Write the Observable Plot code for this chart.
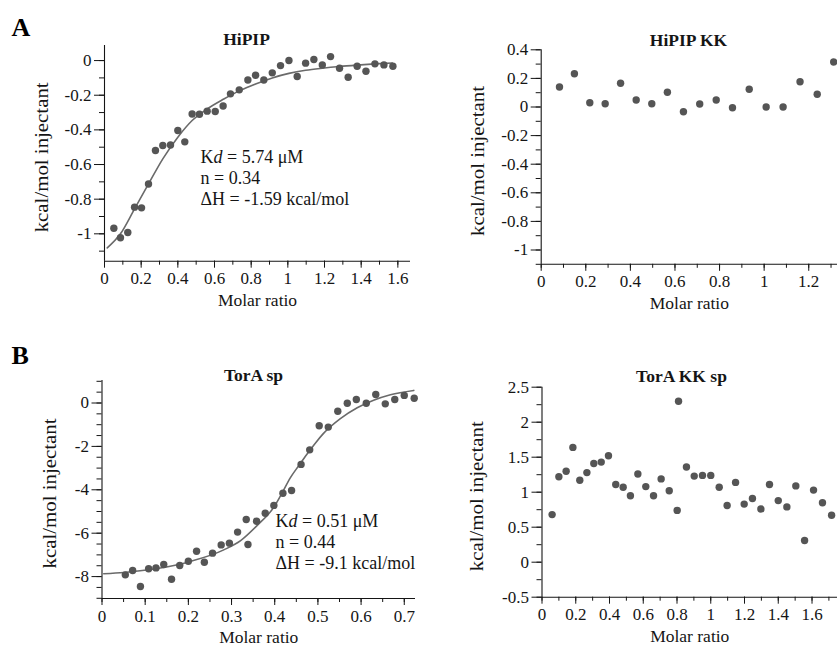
<!DOCTYPE html>
<html><head><meta charset="utf-8">
<script src="https://cdn.jsdelivr.net/npm/d3@7"></script>
<script src="https://cdn.jsdelivr.net/npm/@observablehq/plot@0.6"></script>
<style>
html,body{margin:0;padding:0;background:#fff;overflow:hidden;}
#root{position:relative;width:837px;height:648px;overflow:hidden;background:#fff;}
#root svg{position:absolute;left:0;top:0;}
</style></head><body><div id="root"></div>
<script>
// ---------- DATA ----------
// Panel A left: HiPIP
const hipipX = [0.051,0.087,0.127,0.164,0.202,0.240,0.278,0.318,0.360,0.400,0.438,0.478,0.518,0.560,0.604,0.647,0.687,0.735,0.782,0.824,0.869,0.915,0.960,1.006,1.051,1.097,1.142,1.188,1.233,1.282,1.329,1.378,1.426,1.475,1.524,1.573];
const hipipY = [-0.968,-1.023,-0.992,-0.846,-0.850,-0.712,-0.519,-0.490,-0.487,-0.404,-0.469,-0.308,-0.310,-0.292,-0.294,-0.262,-0.192,-0.169,-0.112,-0.085,-0.112,-0.071,-0.029,0.000,-0.092,-0.015,0.006,-0.025,0.023,-0.044,-0.096,-0.033,-0.062,-0.019,-0.025,-0.033];
const hipipFitX = [0.015,0.087,0.164,0.240,0.318,0.400,0.478,0.560,0.651,0.735,0.824,0.915,1.006,1.097,1.188,1.282,1.378,1.475,1.570];
const hipipFitY = [-1.081,-1.000,-0.856,-0.712,-0.567,-0.442,-0.346,-0.279,-0.222,-0.175,-0.135,-0.100,-0.074,-0.056,-0.044,-0.034,-0.026,-0.019,-0.014];
const hipipYTicks = [0,-0.2,-0.4,-0.6,-0.8,-1];
const hipipXTicks = [0,0.2,0.4,0.6,0.8,1,1.2,1.4,1.6];
const hipipNotes = ["Kd = 5.74 μM","n = 0.34","ΔH = -1.59 kcal/mol"];

// Panel A right: HiPIP KK
const hipipKKX = [0.082,0.149,0.218,0.287,0.356,0.426,0.496,0.566,0.638,0.711,0.785,0.858,0.933,1.009,1.085,1.161,1.238,1.312];
const hipipKKY = [0.140,0.233,0.030,0.023,0.166,0.049,0.023,0.103,-0.033,0.021,0.049,-0.005,0.124,0.000,0.000,0.177,0.089,0.315];
const hipipKKYTicks = [0.4,0.2,0,-0.2,-0.4,-0.6,-0.8,-1];
const hipipKKXTicks = [0,0.2,0.4,0.6,0.8,1,1.2];

// Panel B left: TorA sp
const toraX = [0.054,0.071,0.089,0.108,0.125,0.143,0.161,0.180,0.200,0.219,0.237,0.256,0.276,0.295,0.314,0.334,0.338,0.358,0.378,0.398,0.419,0.439,0.461,0.481,0.503,0.524,0.546,0.568,0.589,0.612,0.634,0.656,0.678,0.700,0.723];
const toraY = [-7.92,-7.72,-8.46,-7.64,-7.60,-7.44,-8.12,-7.49,-7.29,-6.83,-7.34,-6.92,-6.54,-6.46,-5.95,-5.37,-6.52,-5.45,-5.08,-4.72,-4.16,-4.03,-2.83,-2.16,-1.05,-1.11,-0.38,-0.01,0.16,-0.01,0.39,-0.04,0.16,0.35,0.22];
const toraFitX = [0.004,0.051,0.128,0.205,0.282,0.321,0.359,0.398,0.417,0.436,0.456,0.475,0.494,0.513,0.552,0.591,0.629,0.668,0.722];
const toraFitY = [-7.87,-7.81,-7.63,-7.30,-6.77,-6.34,-5.65,-4.80,-4.15,-3.45,-2.88,-2.35,-1.85,-1.40,-0.72,-0.22,0.13,0.38,0.58];
const toraYTicks = [0,-2,-4,-6,-8];
const toraXTicks = [0,0.1,0.2,0.3,0.4,0.5,0.6,0.7];
const toraNotes = ["Kd = 0.51 μM","n = 0.44","ΔH = -9.1 kcal/mol"];

// Panel B right: TorA KK sp
const toraKKX = [0.060,0.100,0.143,0.183,0.224,0.266,0.307,0.351,0.394,0.437,0.481,0.524,0.568,0.615,0.661,0.706,0.754,0.801,0.809,0.856,0.902,0.951,1.000,1.050,1.097,1.147,1.198,1.247,1.297,1.348,1.400,1.451,1.504,1.556,1.609,1.662,1.716];
const toraKKY = [0.68,1.22,1.30,1.64,1.17,1.28,1.41,1.43,1.52,1.11,1.07,0.95,1.26,1.08,0.95,1.19,1.02,0.74,2.30,1.36,1.23,1.24,1.24,1.07,0.81,1.14,0.83,0.91,0.76,1.11,0.88,0.79,1.09,0.31,1.03,0.85,0.67];
const toraKKYTicks = [-0.5,0,0.5,1,1.5,2,2.5];
const toraKKXTicks = [0,0.2,0.4,0.6,0.8,1,1.2,1.4,1.6];

const titles = ["HiPIP","HiPIP KK","TorA sp","TorA KK sp"];
const panelLetters = ["A","B"];
const xLabel = "Molar ratio";
const yLabel = "kcal/mol injectant";

// ---------- DRAW ----------
const W = 837, H = 648;
const INK = "#151515", DOT = "#555555", FIT = "#6a6a6a";
const fmt = d => String(d);
const blank = () => "";
const range = (a, b, s) => d3.range(Math.round((b - a) / s) + 1).map(i => +(a + i * s).toFixed(4));
const rows = (xs, ys) => xs.map((x, i) => ({x, y: ys[i]}));

function panel(c) {
  const marks = [
    Plot.ruleX([c.xDomain[0]], {stroke: INK, strokeWidth: 1.1}),
    Plot.ruleY([c.yDomain[0]], {stroke: INK, strokeWidth: 1.1}),
    Plot.axisX(c.xMinor, {anchor: "bottom", tickSize: 4, tickFormat: blank, label: null, color: INK}),
    Plot.axisX(c.xMajor, {anchor: "bottom", tickSize: 7, tickPadding: 4, tickFormat: fmt, label: null, color: INK, fontSize: 17}),
    Plot.axisY(c.yMinor, {anchor: "left", tickSize: 5, tickFormat: blank, label: null, color: INK}),
    Plot.axisY(c.yMajor, {anchor: "left", tickSize: 10, tickPadding: 3, tickFormat: fmt, label: null, color: INK, fontSize: 17}),
    Plot.text([xLabel], {frameAnchor: "bottom", dy: 39, lineAnchor: "middle", fontSize: 17.5, fill: INK}),
    Plot.text([yLabel], {frameAnchor: "left", dx: c.yLabelX - c.left, dy: 4, rotate: -90, textAnchor: "middle", lineAnchor: "middle", fontSize: 19, fill: INK}),
    Plot.text([c.title], {frameAnchor: "top-left", dx: c.titleX - c.left, dy: c.titleY - c.top, textAnchor: "middle", lineAnchor: "middle", fontSize: 17.5, fontWeight: "bold", fill: INK})
  ];
  if (c.fit) marks.push(Plot.line(c.fit, {x: "x", y: "y", curve: "monotone-x", stroke: FIT, strokeWidth: 1.6}));
  marks.push(Plot.dot(c.points, {x: "x", y: "y", r: 3.7, fill: DOT, stroke: "none"}));
  if (c.notes) c.notes.forEach((t, i) => marks.push(
    Plot.text([t], {frameAnchor: "top-left", dx: c.noteX - c.left, dy: c.noteY + i * 21 - c.top, textAnchor: "start", lineAnchor: "middle", fontSize: 18, fill: INK})));
  if (c.letter) marks.push(Plot.text([c.letter], {frameAnchor: "top-left", dx: 11 - c.left, dy: c.letterY - c.top, textAnchor: "start", lineAnchor: "middle", fontSize: 26, fontWeight: "bold", fill: "#000"}));
  const svg = Plot.plot({
    width: W, height: H,
    marginLeft: c.left, marginRight: W - c.right, marginTop: c.top, marginBottom: H - c.bottom,
    x: {domain: c.xDomain, label: null},
    y: {domain: c.yDomain, label: null},
    style: {fontFamily: '"Liberation Serif", "Times New Roman", serif', fontSize: "17px", color: INK, background: "transparent", overflow: "visible"},
    marks
  });
  svg.querySelectorAll("text").forEach(el => {
    const s = el.textContent;
    // italic "d" in Kd
    if (s.startsWith("Kd =")) {
      el.textContent = "";
      el.appendChild(document.createTextNode("K"));
      const ts = document.createElementNS("http://www.w3.org/2000/svg", "tspan");
      ts.setAttribute("font-style", "italic");
      ts.textContent = "d";
      el.appendChild(ts);
      el.appendChild(document.createTextNode(s.slice(2)));
    }
    // the source figure is slightly stretched vertically: match the rotated label's length
    if (s === yLabel) {
      el.setAttribute("textLength", 150);
      el.setAttribute("lengthAdjust", "spacingAndGlyphs");
    }
  });
  document.getElementById("root").appendChild(svg);
}

panel({
  left: 104, right: 410, top: 45, bottom: 260.7,
  xDomain: [0, 1.669], yDomain: [-1.158, 0.087],
  xMajor: hipipXTicks, xMinor: range(0, 1.6, 0.1),
  yMajor: hipipYTicks, yMinor: range(-1.1, 0, 0.1),
  points: rows(hipipX, hipipY), fit: rows(hipipFitX, hipipFitY),
  title: titles[0], titleX: 246, titleY: 38.5,
  yLabelX: 41, notes: hipipNotes, noteX: 200, noteY: 156.5,
  letter: panelLetters[0], letterY: 27.5
});
panel({
  left: 540.7, right: 837, top: 49.3, bottom: 263.8,
  xDomain: [0, 1.329], yDomain: [-1.1, 0.4],
  xMajor: hipipKKXTicks, xMinor: range(0, 1.3, 0.1),
  yMajor: hipipKKYTicks, yMinor: range(-1.1, 0.4, 0.1),
  points: rows(hipipKKX, hipipKKY),
  title: titles[1], titleX: 688, titleY: 39.5,
  yLabelX: 477
});
panel({
  left: 101.5, right: 415, top: 380, bottom: 598,
  xDomain: [0, 0.726], yDomain: [-9.01, 1.037],
  xMajor: toraXTicks, xMinor: range(0, 0.7, 0.05),
  yMajor: toraYTicks, yMinor: range(-9, 1, 0.5),
  points: rows(toraX, toraY), fit: rows(toraFitX, toraFitY),
  title: titles[2], titleX: 253, titleY: 375,
  yLabelX: 49, notes: toraNotes, noteX: 275, noteY: 521,
  letter: panelLetters[1], letterY: 355
});
panel({
  left: 541.5, right: 837, top: 386.7, bottom: 596.7,
  xDomain: [0, 1.751], yDomain: [-0.5, 2.5],
  xMajor: toraKKXTicks, xMinor: range(0, 1.7, 0.1),
  yMajor: toraKKYTicks, yMinor: range(-0.5, 2.5, 0.25),
  points: rows(toraKKX, toraKKY),
  title: titles[3], titleX: 681, titleY: 375.5,
  yLabelX: 476
});
</script>
</body></html>
